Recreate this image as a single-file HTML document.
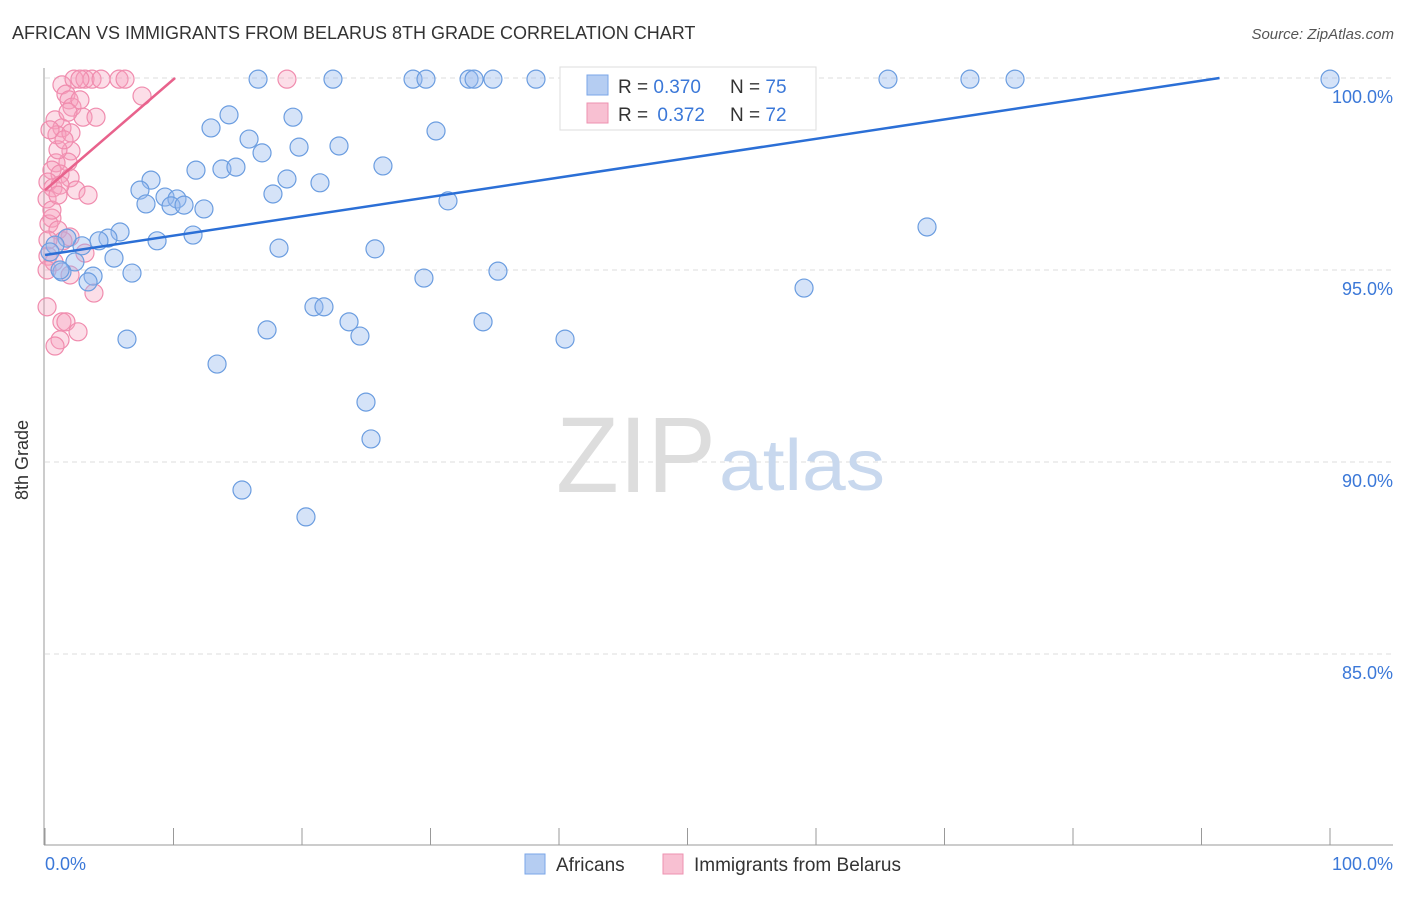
<!DOCTYPE html>
<html><head><meta charset="utf-8"><style>
body{margin:0;background:#fff;font-family:"Liberation Sans",sans-serif}
svg text{font-family:"Liberation Sans",sans-serif}
</style></head><body>
<svg width="1406" height="892">
<text x="12" y="39" font-size="18" fill="#333">AFRICAN VS IMMIGRANTS FROM BELARUS 8TH GRADE CORRELATION CHART</text>
<text x="1394" y="39" font-size="15" fill="#555" font-style="italic" text-anchor="end">Source: ZipAtlas.com</text>
<g id="grid"></g>
<text x="716" y="492" font-size="108" fill="#ddd" font-family="Liberation Serif" text-anchor="end" textLength="160" lengthAdjust="spacingAndGlyphs">ZIP</text>
<text x="719" y="490" font-size="72" fill="#c8d8ee" textLength="166" lengthAdjust="spacingAndGlyphs">atlas</text>
<g id="pts"></g>
<g id="lines"></g>
<text x="28" y="460" font-size="18" fill="#333" transform="rotate(-90 28 460)" text-anchor="middle">8th Grade</text>
<text x="45" y="870" font-size="18" fill="#3b78d8">0.0%</text>
<text x="1393" y="870" font-size="18" fill="#3b78d8" text-anchor="end">100.0%</text>
<g>
<rect x="560" y="67" width="256" height="63" fill="#fff" stroke="#ddd"/>
<rect x="587" y="75" width="21" height="20" fill="#b5cdf2" stroke="#7aa6e8"/>
<rect x="587" y="103" width="21" height="20" fill="#f8c0d2" stroke="#ee92b0"/>
<text x="618" y="93" font-size="19" fill="#333">R = <tspan fill="#3b78d8">0.370</tspan></text>
<text x="730" y="93" font-size="19" fill="#333">N = <tspan fill="#3b78d8">75</tspan></text>
<text x="618" y="121" font-size="19" fill="#333">R = <tspan fill="#3b78d8" dx="4">0.372</tspan></text>
<text x="730" y="121" font-size="19" fill="#333">N = <tspan fill="#3b78d8">72</tspan></text>
</g>
<g>
<rect x="525" y="854" width="20" height="20" fill="#b5cdf2" stroke="#7aa6e8"/>
<text x="556" y="871" font-size="19" fill="#333">Africans</text>
<rect x="663" y="854" width="20" height="20" fill="#f8c0d2" stroke="#ee92b0"/>
<text x="694" y="871" font-size="19" fill="#333">Immigrants from Belarus</text>
</g>
</svg>
<script>
const yTicks=[100,95,90,85];
const yTickLabels=["100.0%","95.0%","90.0%","85.0%"];
const bluePx=[[258,79],[333,79],[413,79],[426,79],[469,79],[474,79],[493,79],[536,79],[589,79],[717,79],[888,79],[970,79],[1015,79],[1330,79],[229,115],[211,128],[249,139],[293,117],[436,131],[262,153],[299,147],[339,146],[383,166],[196,170],[222,169],[236,167],[151,180],[140,190],[146,204],[165,197],[177,199],[171,206],[184,205],[204,209],[273,194],[287,179],[320,183],[448,201],[120,232],[108,238],[99,241],[82,246],[67,238],[55,245],[50,252],[157,241],[193,235],[279,248],[375,249],[114,258],[75,262],[62,272],[93,276],[88,282],[132,273],[424,278],[498,271],[804,288],[927,227],[314,307],[324,307],[349,322],[360,336],[267,330],[127,339],[483,322],[565,339],[217,364],[366,402],[371,439],[242,490],[306,517],[580,112],[760,116],[60,270]];
const pinkPx=[[62,85],[74,79],[85,79],[92,79],[101,79],[119,79],[125,79],[287,79],[142,96],[66,94],[69,100],[72,107],[80,100],[83,117],[96,117],[55,120],[62,128],[57,135],[71,133],[50,130],[71,151],[68,162],[56,163],[52,170],[60,174],[70,178],[48,182],[53,188],[76,190],[88,195],[47,199],[52,218],[49,224],[58,230],[70,237],[63,241],[85,253],[48,256],[54,262],[70,275],[94,293],[47,307],[62,322],[66,322],[78,332],[60,340],[55,346],[47,270],[48,240],[52,210],[60,185],[58,150],[64,140],[80,79],[68,112],[58,195]];
const blueX=bluePx.map(p=>+((p[0]-45)/12.85).toFixed(2));
const blueY=bluePx.map(p=>+(100-(p[1]-78)/38.4).toFixed(2));
const pinkX=pinkPx.map(p=>+((p[0]-45)/12.85).toFixed(2));
const pinkY=pinkPx.map(p=>+(100-(p[1]-78)/38.4).toFixed(2));
const blueLine=[[0,95.39],[91.4,100]];
const pinkLine=[[0,97.08],[10.12,100]];
const sx=v=>45+v*12.85, sy=v=>78+(100-v)*38.4;
const NS="http://www.w3.org/2000/svg";
function mk(t,a,parent){const e=document.createElementNS(NS,t);for(const k in a)e.setAttribute(k,a[k]);parent.appendChild(e);return e;}
const grid=document.getElementById('grid');
yTicks.forEach((t,i)=>{
 const l=mk('line',{x1:45,x2:1393,y1:sy(t),y2:sy(t),stroke:'#ddd','stroke-dasharray':'5,4'},grid);
 
 
 const tx=mk('text',{x:1393,y:sy(t)+25,'font-size':18,fill:'#3b78d8','text-anchor':'end'},grid);
 tx.textContent=yTickLabels[i];
 
 
});
const ax=mk('line',{x1:44,x2:44,y1:68,y2:845,stroke:'#999'},grid);


const bx=mk('line',{x1:44,x2:1393,y1:845,y2:845,stroke:'#999'},grid);


for(let i=0;i<=10;i++){const t=mk('line',{x1:sx(i*10),x2:sx(i*10),y1:828,y2:845,stroke:'#999'},grid);
 
 }
const pts=document.getElementById('pts');
pinkX.forEach((x,i)=>{const c=mk('circle',{cx:sx(x),cy:sy(pinkY[i]),r:9,fill:'rgba(246,160,190,0.35)',stroke:'#f08cae','stroke-width':1.2},pts);
 
 });
blueX.forEach((x,i)=>{const c=mk('circle',{cx:sx(x),cy:sy(blueY[i]),r:9,fill:'rgba(150,186,238,0.4)',stroke:'#6b9de0','stroke-width':1.2},pts);
 
 });
const lines=document.getElementById('lines');
const bl=mk('line',{x1:sx(blueLine[0][0]),y1:sy(blueLine[0][1]),x2:sx(blueLine[1][0]),y2:sy(blueLine[1][1]),stroke:'#2b6fd6','stroke-width':2.5},lines);


const pl=mk('line',{x1:sx(pinkLine[0][0]),y1:sy(pinkLine[0][1]),x2:sx(pinkLine[1][0]),y2:sy(pinkLine[1][1]),stroke:'#e8628c','stroke-width':2.5},lines);


</script>
</body></html>
